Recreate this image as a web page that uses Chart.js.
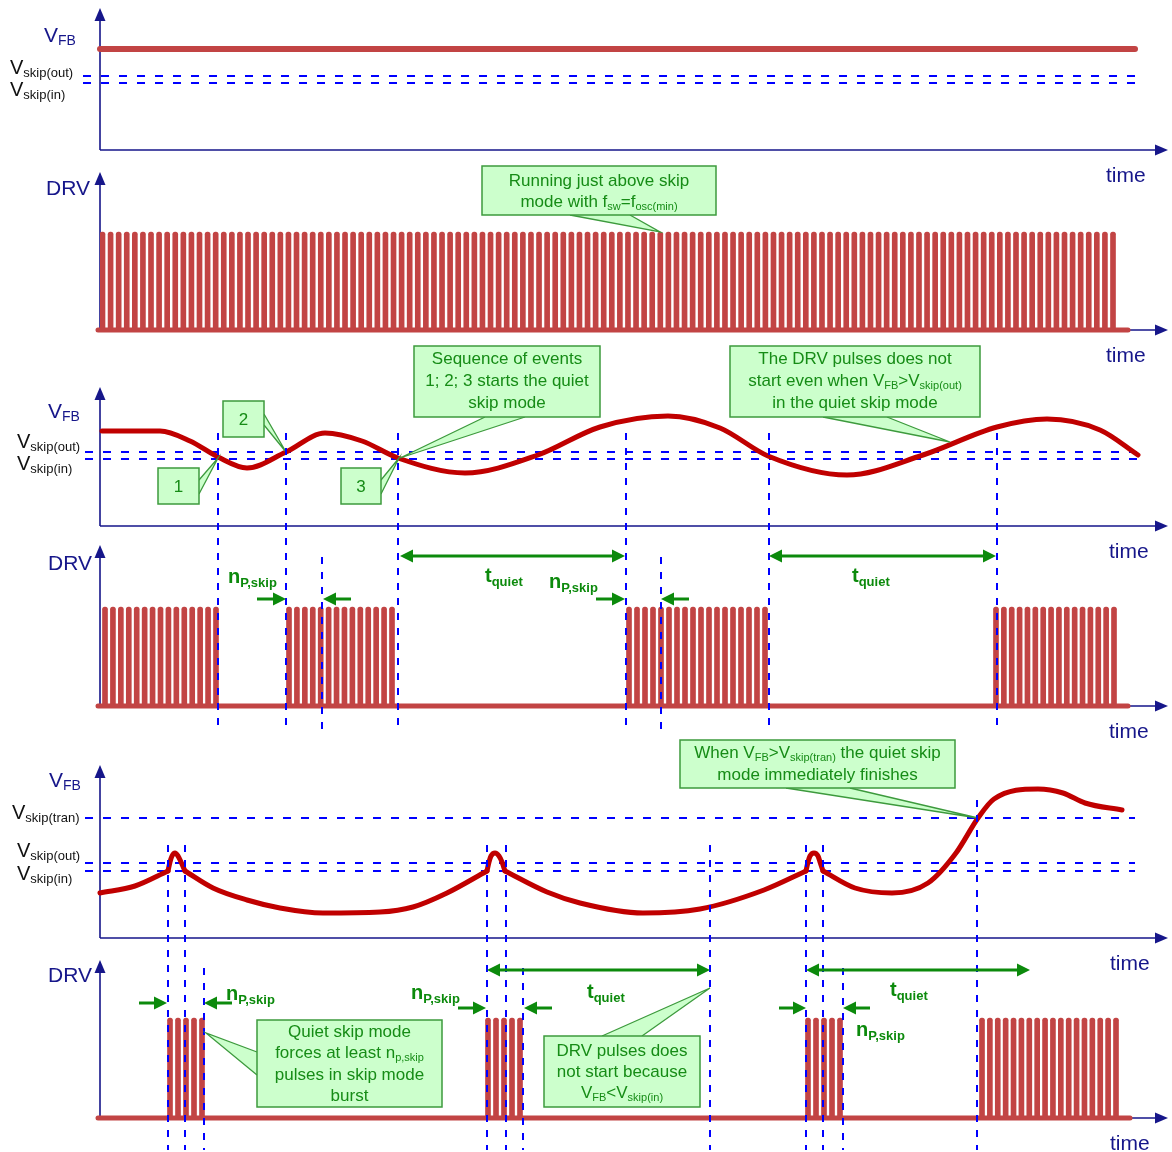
<!DOCTYPE html>
<html>
<head>
<meta charset="utf-8">
<title>Quiet skip mode timing</title>
<script src="https://cdn.jsdelivr.net/npm/chart.js@4.4.1/dist/chart.umd.min.js"></script>
<style>
  body { margin: 0; background: #fff; }
  #wrap { position: relative; width: 1172px; height: 1152px; }
  #wrap canvas { position: absolute; left: 0; top: 0; }
</style>
</head>
<body>
<div id="wrap"></div>
<script>
// time runs 0..tMax on every panel, levels are measured up from each time axis
const tMax = 1068;

// panel 1 - V_FB steady above the skip thresholds
const fb1 = [[0, 101], [1035, 101]];
const lev1 = [74, 67];

// panel 2 - DRV running all the time   [first pulse, last pulse, count]
const drv2Bursts = [[2.5, 1013, 126]];
const drv2High = 98;

// panel 3 - V_FB going in and out of skip
const fb3 = [[2,95],[60,95],[90,85],[118,69],[147,58],[186,74],[225,93],[262,85],[298,68],
  [365,53],[438,71],[500,99],[568,110],[620,98],[668,70],[747,51],[823,71],[897,99],
  [947,107],[1000,96],[1038,71]];
const lev3 = [74, 67];

// panel 4 - DRV bursts in quiet skip mode
const drv4Bursts = [[5,116,15],[189,292,14],[529,665,18],[896,1014,16]];
const drv4High = 99;
const marks4 = [[118,273],[186,273],[222,149],[298,273],[526,273],[561,149],[669,273],[897,273]];
const marks4Bottom = -26;

// panel 5 - V_FB with short bursts, then the transient
const fb5Segments = [
  [[0,45],[35,52],[68,67]],
  [[68,67],[70,76],[72,82],[75,85],[78,82],[81,76],[85,67]],
  [[85,67],[113,50],[147,38],[180,30],[223,25],[280,26],[313,31],[347,45],[387,67]],
  [[387,67],[389,76],[391,82],[395,85],[399,82],[402,76],[405,67]],
  [[405,67],[447,46],[480,35],[543,25],[600,29],[664,48],[706,67]],
  [[706,67],[708,76],[710,82],[714,85],[718,82],[720,76],[723,67]],
  [[723,67],[755,50],[792,45],[828,55],[856,85],[878,120],[894,139],[938,149],[963,145],[985,135],[1022,128]]
];
const lev5 = [120, 75, 67];

// panel 6 - DRV with forced n_p,skip bursts
const drv6Bursts = [[70,102,5],[388,420,5],[708,740,5],[882,1016,18]];
const drv6High = 100;
const marks6 = [[68,273],[85,273],[104,150],[387,273],[406,273],[423,150],[610,273],
  [706,273],[723,273],[743,150],[877,318]];
const marks6Bottom = -32;

const RED = '#c00000';
const PULSE = '#c24444';
const NAVY = '#16168a';
const BLUE = '#0000ff';
const GREEN = '#0c8a0c';
const NOTE_TEXT = '#168c16';
const NOTE_FILL = '#ccffcc';
const NOTE_EDGE = '#3d9a3d';
const FONT = '"Liberation Sans", Arial, sans-serif';

const STYLES = {
  axis: { main: '21px ' + FONT, sub: '14px ' + FONT, dy: 3, color: NAVY },
  level: { main: '20px ' + FONT, sub: '13px ' + FONT, dy: 3, color: '#111' },
  note: { main: '17px ' + FONT, sub: '11px ' + FONT, dy: 3, color: NOTE_TEXT },
  dim: { main: 'bold 20px ' + FONT, sub: 'bold 13px ' + FONT, dy: 4, color: GREEN }
};

const toPts = arr => arr.map(([x, y]) => ({ x, y }));

function pulses(bursts, high) {
  const out = [];
  bursts.forEach(([first, last, n]) => {
    const step = (last - first) / (n - 1);
    for (let i = 0; i < n; i++) out.push({ x: first + i * step, y: high });
  });
  return out;
}

function lineSet(arr, color, width, extra) {
  return Object.assign({
    type: 'line', data: toPts(arr), borderColor: color, borderWidth: width,
    pointRadius: 0, fill: false, clip: false, borderCapStyle: 'round', borderJoinStyle: 'round'
  }, extra || {});
}

function levelSets(levels, from, to) {
  return levels.map(v => lineSet([[from, v], [to, v]], BLUE, 2,
    { borderDash: [8, 10], borderCapStyle: 'butt', order: 5 }));
}

function markSets(marks, bottom) {
  return marks.map(([t, top]) => lineSet([[t, top], [t, bottom]], BLUE, 2,
    { borderDash: [7, 8], borderCapStyle: 'butt', order: 0 }));
}

function drvSets(bursts, high, end) {
  return [
    { type: 'bar', data: pulses(bursts, high), backgroundColor: PULSE, barThickness: 5,
      borderRadius: { topLeft: 2.5, topRight: 2.5 }, grouped: false, order: 3 },
    lineSet([[-2, 0], [end, 0]], PULSE, 5, { order: 2 })
  ];
}

// ---- drawing helpers ----
function richParts(str) {
  const out = [];
  const re = /_\{([^}]*)\}/g;
  let last = 0, m;
  while ((m = re.exec(str))) {
    if (m.index > last) out.push([str.slice(last, m.index), false]);
    out.push([m[1], true]);
    last = re.lastIndex;
  }
  if (last < str.length) out.push([str.slice(last), false]);
  return out;
}

function richText(ctx, x, y, str, style, align) {
  const parts = richParts(str);
  let w = 0;
  parts.forEach(([s, sub]) => { ctx.font = sub ? style.sub : style.main; w += ctx.measureText(s).width; });
  let cx = align === 'center' ? x - w / 2 : x;
  ctx.fillStyle = style.color;
  ctx.textAlign = 'left';
  ctx.textBaseline = 'alphabetic';
  parts.forEach(([s, sub]) => {
    ctx.font = sub ? style.sub : style.main;
    ctx.fillText(s, cx, y + (sub ? style.dy : 0));
    cx += ctx.measureText(s).width;
  });
}

function drawAxes(chart) {
  const { ctx, chartArea: a } = chart;
  ctx.save();
  ctx.strokeStyle = NAVY;
  ctx.fillStyle = NAVY;
  ctx.lineWidth = 1.6;
  ctx.beginPath();
  ctx.moveTo(a.left, a.bottom); ctx.lineTo(a.left, a.top + 10);
  ctx.moveTo(a.left, a.bottom); ctx.lineTo(a.right - 10, a.bottom);
  ctx.stroke();
  ctx.beginPath();
  ctx.moveTo(a.left, a.top); ctx.lineTo(a.left - 5.5, a.top + 13); ctx.lineTo(a.left + 5.5, a.top + 13);
  ctx.fill();
  ctx.beginPath();
  ctx.moveTo(a.right, a.bottom); ctx.lineTo(a.right - 13, a.bottom - 5.5); ctx.lineTo(a.right - 13, a.bottom + 5.5);
  ctx.fill();
  ctx.restore();
}

function drawDecor(chart, cfg) {
  const ctx = chart.ctx;
  const X = t => chart.scales.x.getPixelForValue(t);
  const Y = v => chart.scales.y.getPixelForValue(v);
  ctx.save();

  (cfg.notes || []).forEach(n => {
    const [a, b, c] = n.tail.map(([t, v]) => [X(t), Y(v)]);
    ctx.beginPath();
    ctx.moveTo(a[0], a[1]); ctx.lineTo(b[0], b[1]); ctx.lineTo(c[0], c[1]);
    ctx.fillStyle = NOTE_FILL; ctx.fill();
    ctx.strokeStyle = NOTE_EDGE; ctx.lineWidth = 1.3; ctx.stroke();
    const x0 = X(n.box[0]), y0 = Y(n.box[1]), x1 = X(n.box[2]), y1 = Y(n.box[3]);
    ctx.fillStyle = NOTE_FILL;
    ctx.fillRect(x0, y0, x1 - x0, y1 - y0);
    ctx.lineWidth = 1.5;
    ctx.strokeRect(x0, y0, x1 - x0, y1 - y0);
    n.lines.forEach((s, i) => richText(ctx, X(n.at), Y(n.base[i]), s, STYLES.note, 'center'));
  });

  (cfg.arrows || []).forEach(ar => {
    const y = Y(ar.v), x0 = X(ar.from), x1 = X(ar.to);
    const dir = Math.sign(x1 - x0), head = 13, half = 6.5;
    ctx.strokeStyle = GREEN; ctx.fillStyle = GREEN; ctx.lineWidth = 3;
    ctx.beginPath();
    ctx.moveTo(ar.both ? x0 + dir * head : x0, y);
    ctx.lineTo(x1 - dir * head, y);
    ctx.stroke();
    const tip = (x, d) => {
      ctx.beginPath();
      ctx.moveTo(x, y); ctx.lineTo(x - d * head, y - half); ctx.lineTo(x - d * head, y + half);
      ctx.fill();
    };
    tip(x1, dir);
    if (ar.both) tip(x0, -dir);
  });

  (cfg.texts || []).forEach(tx => richText(ctx, X(tx.t), Y(tx.v), tx.s, STYLES[tx.st], tx.align));
  ctx.restore();
}

const wrap = document.getElementById('wrap');

function panel(cfg) {
  const canvas = document.createElement('canvas');
  canvas.width = 1172;
  canvas.height = 1152;
  wrap.appendChild(canvas);
  return new Chart(canvas, {
    type: 'line',
    data: { datasets: cfg.datasets },
    options: {
      responsive: false,
      animation: false,
      devicePixelRatio: 1,
      events: [],
      layout: { padding: { left: 100, right: 4, top: cfg.top, bottom: 1152 - cfg.bottom } },
      plugins: { legend: { display: false }, tooltip: { enabled: false }, title: { display: false } },
      scales: {
        x: { type: 'linear', min: 0, max: tMax, offset: false, display: false },
        y: { type: 'linear', min: 0, max: cfg.bottom - cfg.top, display: false }
      }
    },
    plugins: [{
      id: 'decor',
      beforeDatasetsDraw(chart) { drawAxes(chart); },
      afterDatasetsDraw(chart) { drawDecor(chart, cfg); }
    }]
  });
}

// panel 1
panel({
  top: 8, bottom: 150,
  datasets: [lineSet(fb1, PULSE, 6, { order: 1 })].concat(levelSets(lev1, -17, 1035)),
  texts: [
    { t: -56, v: 108, s: 'V_{FB}', st: 'axis' },
    { t: -90, v: 76, s: 'V_{skip(out)}', st: 'level' },
    { t: -90, v: 54, s: 'V_{skip(in)}', st: 'level' },
    { t: 1006, v: -32, s: 'time', st: 'axis' }
  ]
});

// panel 2
panel({
  top: 172, bottom: 330,
  datasets: drvSets(drv2Bursts, drv2High, 1028),
  notes: [{ box: [382, 164, 616, 115], tail: [[470, 115], [560, 98], [530, 115]], at: 499, base: [144, 123],
    lines: ['Running just above skip', 'mode with f_{sw}=f_{osc(min)}'] }],
  texts: [
    { t: -54, v: 135, s: 'DRV', st: 'axis' },
    { t: 1006, v: -32, s: 'time', st: 'axis' }
  ]
});

// panel 3
panel({
  top: 387, bottom: 526,
  datasets: [lineSet(fb3, RED, 5, { cubicInterpolationMode: 'monotone', order: 1 })].concat(levelSets(lev3, -15, 1040)),
  notes: [
    { box: [58, 58, 99, 22], tail: [[99, 46], [118, 68], [99, 32]], at: 78.5, base: [34], lines: ['1'] },
    { box: [123, 125, 164, 89], tail: [[164, 112], [186, 74], [164, 101]], at: 143.5, base: [101], lines: ['2'] },
    { box: [241, 58, 281, 22], tail: [[281, 46], [299, 68], [281, 32]], at: 261, base: [34], lines: ['3'] },
    { box: [314, 180, 500, 109], tail: [[385, 109], [300, 68], [425, 109]], at: 407, base: [162, 140, 118],
      lines: ['Sequence of events', '1; 2; 3 starts the quiet', 'skip mode'] },
    { box: [630, 180, 880, 109], tail: [[723, 109], [850, 84], [787, 109]], at: 755, base: [162, 140, 118],
      lines: ['The DRV pulses does not', 'start even when V_{FB}>V_{skip(out)}', 'in the quiet skip mode'] }
  ],
  texts: [
    { t: -52, v: 108, s: 'V_{FB}', st: 'axis' },
    { t: -83, v: 78, s: 'V_{skip(out)}', st: 'level' },
    { t: -83, v: 56, s: 'V_{skip(in)}', st: 'level' },
    { t: 1009, v: -32, s: 'time', st: 'axis' }
  ]
});

// panel 4
panel({
  top: 545, bottom: 706,
  datasets: drvSets(drv4Bursts, drv4High, 1028).concat(markSets(marks4, marks4Bottom)),
  arrows: [
    { from: 157, to: 186, v: 107 }, { from: 251, to: 223, v: 107 },
    { from: 496, to: 525, v: 107 }, { from: 589, to: 561, v: 107 },
    { from: 300, to: 525, v: 150, both: true }, { from: 669, to: 896, v: 150, both: true }
  ],
  texts: [
    { t: -52, v: 136, s: 'DRV', st: 'axis' },
    { t: 1009, v: -32, s: 'time', st: 'axis' },
    { t: 128, v: 123, s: 'n_{P,skip}', st: 'dim' },
    { t: 449, v: 118, s: 'n_{P,skip}', st: 'dim' },
    { t: 385, v: 124, s: 't_{quiet}', st: 'dim' },
    { t: 752, v: 124, s: 't_{quiet}', st: 'dim' }
  ]
});

// panel 5
panel({
  top: 765, bottom: 938,
  datasets: fb5Segments.map(seg => lineSet(seg, RED, 5, { cubicInterpolationMode: 'monotone', order: 1 }))
    .concat(levelSets(lev5, -15, 1035)),
  notes: [{ box: [580, 198, 855, 150], tail: [[686, 150], [878, 120], [750, 150]], at: 717.5, base: [180, 158],
    lines: ['When V_{FB}>V_{skip(tran)} the quiet skip', 'mode immediately finishes'] }],
  texts: [
    { t: -51, v: 151, s: 'V_{FB}', st: 'axis' },
    { t: -88, v: 119, s: 'V_{skip(tran)}', st: 'level' },
    { t: -83, v: 81, s: 'V_{skip(out)}', st: 'level' },
    { t: -83, v: 58, s: 'V_{skip(in)}', st: 'level' },
    { t: 1010, v: -32, s: 'time', st: 'axis' }
  ]
});

// panel 6
panel({
  top: 960, bottom: 1118,
  datasets: drvSets(drv6Bursts, drv6High, 1030).concat(markSets(marks6, marks6Bottom)),
  notes: [
    { box: [157, 98, 342, 11], tail: [[157, 66], [106, 85], [157, 43]], at: 249.5, base: [81, 60, 38, 17],
      lines: ['Quiet skip mode', 'forces at least n_{p,skip}', 'pulses in skip mode', 'burst'] },
    { box: [444, 82, 600, 11], tail: [[502, 82], [610, 130], [542, 82]], at: 522, base: [62, 41, 20],
      lines: ['DRV pulses does', 'not start because', 'V_{FB}<V_{skip(in)}'] }
  ],
  arrows: [
    { from: 39, to: 67, v: 115 }, { from: 132, to: 104, v: 115 },
    { from: 358, to: 386, v: 110 }, { from: 452, to: 424, v: 110 },
    { from: 679, to: 706, v: 110 }, { from: 770, to: 743, v: 110 },
    { from: 387, to: 610, v: 148, both: true }, { from: 706, to: 930, v: 148, both: true }
  ],
  texts: [
    { t: -52, v: 136, s: 'DRV', st: 'axis' },
    { t: 1010, v: -32, s: 'time', st: 'axis' },
    { t: 126, v: 118, s: 'n_{P,skip}', st: 'dim' },
    { t: 311, v: 119, s: 'n_{P,skip}', st: 'dim' },
    { t: 756, v: 82, s: 'n_{P,skip}', st: 'dim' },
    { t: 487, v: 120, s: 't_{quiet}', st: 'dim' },
    { t: 790, v: 122, s: 't_{quiet}', st: 'dim' }
  ]
});
</script>
</body>
</html>
